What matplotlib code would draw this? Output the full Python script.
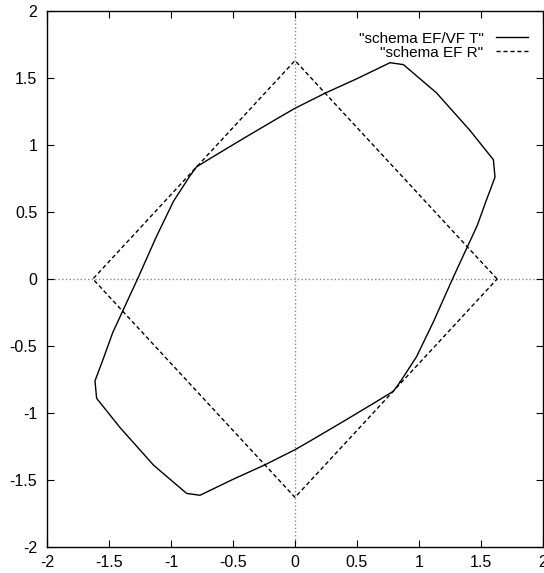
import matplotlib
matplotlib.use("Agg")
import matplotlib.pyplot as plt
import numpy as np

plt.rcParams['font.family'] = ['Liberation Sans', 'DejaVu Sans']

# half of the T curve (the other half is point-symmetric)
t_half_x = [0.847, 0.98, 1.116, 1.27, 1.39, 1.47, 1.54, 1.613, 1.60, 1.41, 1.14, 0.874, 0.766,
            0.5, 0.25, 0.0, -0.12, -0.39, -0.66, -0.793]
t_half_y = [-0.77, -0.58, -0.32, 0.0, 0.24, 0.40, 0.58, 0.76, 0.89, 1.11, 1.39, 1.60, 1.614,
            1.495, 1.39, 1.274, 1.21, 1.063, 0.913, 0.838]

r_x = [1.63, 0.0, -1.63, 0.0, 1.63]
r_y = [0.0, 1.63, 0.0, -1.63, 0.0]

t_x = t_half_x + [-v for v in t_half_x] + [t_half_x[0]]
t_y = t_half_y + [-v for v in t_half_y] + [t_half_y[0]]

ticks = [-2, -1.5, -1, -0.5, 0, 0.5, 1, 1.5, 2]
tick_labels = ['-2', '-1.5', '-1', '-0.5', '0', '0.5', '1', '1.5', '2']

fig = plt.figure(figsize=(5.44, 5.73), dpi=100)
ax = fig.add_axes([47/544, 26/573, 496/544, 536/573])

ax.axhline(0, color='#888888', linestyle=':', linewidth=1, zorder=1)
ax.axvline(0, color='#888888', linestyle=':', linewidth=1, zorder=1)

ax.plot(t_x, t_y, color='black', linewidth=1, label='"schema EF/VF T"')
ax.plot(r_x, r_y, color='black', linewidth=1, linestyle=(0, (3, 2)), label='"schema EF R"')

ax.set_xlim(-2, 2)
ax.set_ylim(-2, 2)
ax.set_xticks(ticks)
ax.set_yticks(ticks)
ax.set_xticklabels(tick_labels)
ax.set_yticklabels(tick_labels)
ax.tick_params(direction='in', top=True, right=True, length=5, labelsize=11.5)
ax.tick_params(axis='y', pad=7)
ax.tick_params(axis='x', pad=6)
for s in ax.spines.values():
    s.set_linewidth(1)

leg = ax.legend(loc='upper right', bbox_to_anchor=(1.0, 0.99), frameon=False,
                markerfirst=False, fontsize=11, handlelength=2.1, handletextpad=0.8,
                labelspacing=0.0, borderaxespad=0.8, borderpad=0.2)
for t in leg.get_texts():
    t.set_ha('right')

fig.savefig('out.png', dpi=100)
